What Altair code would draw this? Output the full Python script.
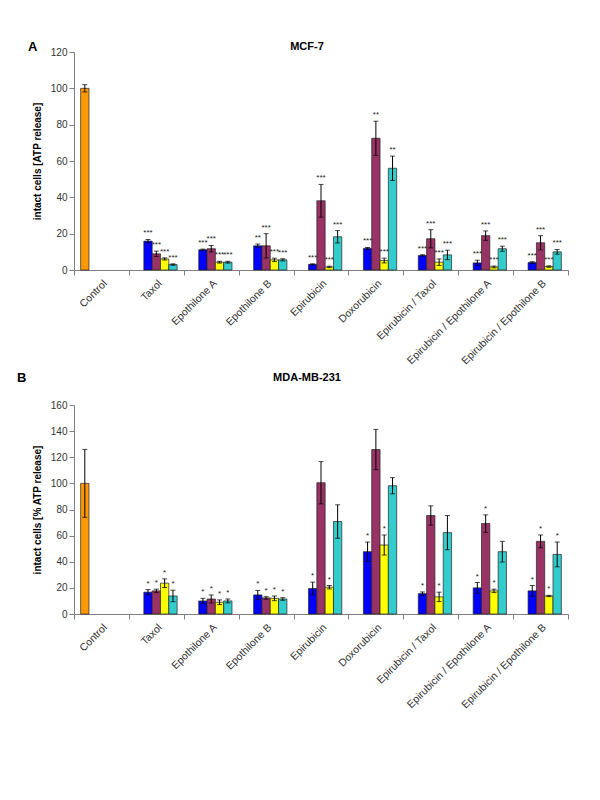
import altair as alt
import pandas as pd

categories = ["Control", "Taxol", "Epothilone A", "Epothilone B", "Epirubicin",
              "Doxorubicin", "Epirubicin / Taxol", "Epirubicin / Epothilone A",
              "Epirubicin / Epothilone B"]
series = ["Control", "Series 1", "Series 2", "Series 3", "Series 4"]
colors = ["#FF9900", "#0000FF", "#993366", "#FFFF00", "#33CCCC"]

# Panel A: MCF-7 (treatments Taxol ... Epirubicin / Epothilone B)
a_control, a_control_err = 100.0, 2.0
a_blue = [15.9, 11.1, 13.3, 3.1, 11.9, 8.0, 3.9, 4.1]
a_blue_err = [0.9, 0.4, 1.0, 0.3, 0.5, 0.4, 1.5, 0.5]
a_purple = [8.9, 11.7, 13.3, 38.1, 72.5, 17.2, 18.9, 15.0]
a_purple_err = [1.5, 1.8, 6.7, 9.0, 9.4, 5.0, 2.6, 3.9]
a_yellow = [6.1, 4.3, 5.6, 1.7, 5.2, 4.3, 1.7, 1.9]
a_yellow_err = [0.6, 0.5, 0.9, 0.4, 1.3, 1.8, 0.5, 0.4]
a_cyan = [3.0, 4.3, 5.6, 18.3, 56.0, 8.3, 11.7, 10.0]
a_cyan_err = [0.4, 0.5, 0.6, 3.4, 6.7, 2.6, 1.4, 1.3]
a_blue_sig = ["***", "***", "**", "***", "***", "***", "***", "***"]
a_purple_sig = ["***", "***", "***", "***", "**", "***", "***", "***"]
a_yellow_sig = ["***", "***", "***", "***", "***", "***", "***", "***"]
a_cyan_sig = ["***", "***", "***", "***", "**", "***", "***", "***"]

# Panel B: MDA-MB-231
b_control, b_control_err = 100.0, 26.0
b_blue = [16.7, 10.0, 14.6, 19.5, 47.7, 15.6, 20.0, 17.7]
b_blue_err = [2.0, 2.0, 3.4, 4.9, 7.4, 1.3, 4.1, 4.1]
b_purple = [17.7, 11.5, 12.3, 100.5, 125.9, 75.4, 69.2, 55.6]
b_purple_err = [1.3, 3.1, 1.0, 16.2, 15.4, 7.4, 6.7, 4.9]
b_yellow = [23.6, 9.0, 12.0, 20.5, 52.8, 13.1, 17.7, 13.8]
b_yellow_err = [3.3, 1.8, 1.8, 1.3, 7.7, 3.6, 1.3, 0.5]
b_cyan = [13.8, 10.0, 11.5, 70.8, 98.2, 62.3, 47.7, 45.6]
b_cyan_err = [4.4, 1.5, 1.0, 12.8, 6.2, 13.1, 7.9, 9.5]
b_blue_sig = ["*", "*", "*", "*", "*", "*", "*", "*"]
b_purple_sig = ["*", "*", "*", "", "", "", "*", "*"]
b_yellow_sig = ["*", "*", "*", "*", "*", "*", "*", "*"]
b_cyan_sig = ["*", "*", "*", "", "", "", "", "*"]


def build(control, control_err, vals, errs, sigs):
    rows = [dict(cat=categories[0], series=series[0], value=control,
                 err=control_err, star="")]
    for si in range(4):
        for ci in range(8):
            rows.append(dict(cat=categories[ci + 1], series=series[si + 1],
                             value=vals[si][ci], err=errs[si][ci],
                             star=sigs[si][ci]))
    df = pd.DataFrame(rows)
    df["lo"] = df["value"] - df["err"]
    df["hi"] = df["value"] + df["err"]
    return df


dfA = build(a_control, a_control_err, [a_blue, a_purple, a_yellow, a_cyan],
            [a_blue_err, a_purple_err, a_yellow_err, a_cyan_err],
            [a_blue_sig, a_purple_sig, a_yellow_sig, a_cyan_sig])
dfB = build(b_control, b_control_err, [b_blue, b_purple, b_yellow, b_cyan],
            [b_blue_err, b_purple_err, b_yellow_err, b_cyan_err],
            [b_blue_sig, b_purple_sig, b_yellow_sig, b_cyan_sig])


def panel(df, ymax, title, ytitle, letter, letter_x, letter_y, w, h,
          title_offset, title_dx):
    x = alt.X("cat:N", sort=categories,
              scale=alt.Scale(paddingInner=0, paddingOuter=0),
              axis=alt.Axis(title=None, labelAngle=-45, tickBand="extent",
                            labelFontSize=10.5, labelPadding=3))
    xo = alt.XOffset("series:N", sort=series,
                     scale=alt.Scale(domain=series, paddingOuter=0.8,
                                     paddingInner=0))
    yscale = alt.Scale(domain=[0, ymax], nice=False)
    yaxis = alt.Axis(values=list(range(0, ymax + 1, 20)), title=ytitle,
                     grid=False, titlePadding=8)

    def Y(f):
        return alt.Y(f, scale=yscale, axis=yaxis)

    bars = alt.Chart(df).mark_bar(stroke="#222222", strokeWidth=0.7).encode(
        x=x, xOffset=xo, y=Y("value:Q"),
        color=alt.Color("series:N", scale=alt.Scale(domain=series, range=colors),
                        legend=None))
    rule = alt.Chart(df).mark_rule(color="black", strokeWidth=1).encode(
        x=x, xOffset=xo, y=Y("lo:Q"), y2="hi:Q")
    cap_hi = alt.Chart(df).mark_tick(color="black", size=5, thickness=1).encode(
        x=x, xOffset=xo, y=Y("hi:Q"))
    cap_lo = alt.Chart(df).mark_tick(color="black", size=5, thickness=1).encode(
        x=x, xOffset=xo, y=Y("lo:Q"))
    stars = alt.Chart(df).mark_text(dy=-2, fontSize=8, baseline="bottom",
                                    font="Liberation Sans", color="#222").encode(
        x=x, xOffset=xo, y=Y("hi:Q"), text="star:N")
    let = alt.Chart(pd.DataFrame({"t": [letter]})).mark_text(
        fontSize=13, fontWeight="bold", align="left", baseline="middle",
        font="Liberation Sans", color="black").encode(
        x=alt.value(letter_x), y=alt.value(letter_y), text="t:N")
    return alt.layer(bars, rule, cap_hi, cap_lo, stars, let).properties(
        width=w, height=h,
        title=alt.TitleParams(title, offset=title_offset, dx=title_dx))


chartA = panel(dfA, 120, "MCF-7", "intact cells [ATP release]", "A", -46, -5,
               494, 218, -11, -14)
chartB = panel(dfB, 160, "MDA-MB-231", "intact cells [% ATP release]", "B", -57,
               -27, 494, 209, -11, -14)

chart = alt.vconcat(chartA, chartB, spacing=5).properties(
    padding={"left": 9, "top": 33, "right": 5, "bottom": 5}
).configure_view(strokeWidth=0).configure_axis(
    domainColor="#808080", tickColor="#808080", labelColor="#333333",
    labelFont="Liberation Sans", labelFontSize=10, titleFont="Liberation Sans",
    titleFontSize=10, titleFontWeight="bold", titleColor="black", tickSize=5
).configure_title(
    font="Liberation Sans", fontSize=11, fontWeight="bold", color="black",
    anchor="middle"
)

chart.save("out.html", embed_options={"renderer": "svg", "actions": False})
